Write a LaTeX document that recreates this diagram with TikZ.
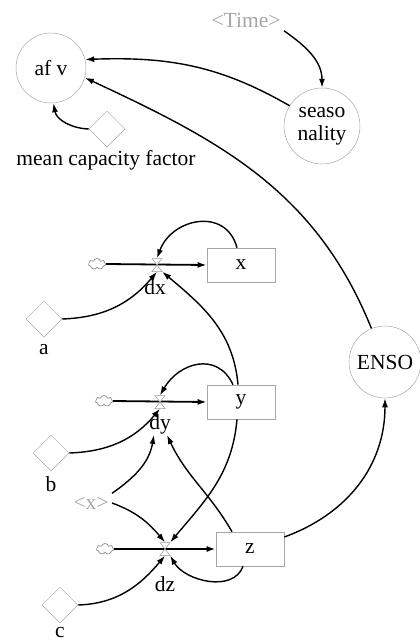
\documentclass[tikz,border=0pt]{standalone}
\usepackage{fontspec}
\setmainfont{Liberation Serif}
\usepackage{tikz}
\usetikzlibrary{arrows.meta, shapes.geometric, shapes.symbols, positioning, calc}
\tikzset{
  auxnode/.style={
    circle, minimum size=#1, inner sep=0pt,
    draw=gray!70, line width=0.5pt, align=center
  },
  constnode/.style={
    diamond, minimum width=36pt, minimum height=36pt, inner sep=0pt,
    draw=gray!70, line width=0.5pt
  },
  stocknode/.style={
    rectangle, minimum width=68pt, minimum height=34pt,
    draw=gray!70, line width=0.6pt
  },
  cloudnode/.style={
    cloud, cloud puffs=7, aspect=1.5, inner sep=0pt,
    minimum width=17pt, minimum height=11pt,
    draw=gray!90, line width=0.7pt
  },
  valvenode/.style={
    rectangle, inner sep=0pt, minimum width=10pt, minimum height=13pt
  },
  labnode/.style={inner sep=1pt},
  shadowvar/.style={text=gray!70},
  linkarrow/.style={-{Latex[length=9pt,width=6pt]}, line width=1.4pt},
  pipearrow/.style={-{Latex[length=9pt,width=6pt]}, line width=1.8pt},
}

\begin{document}
\begin{tikzpicture}[x=1pt, y=1pt, font=\fontsize{21.5}{23}\selectfont]
      \useasboundingbox (0,0) rectangle (420,-643);

      % upper part
      \node[auxnode=70pt](afv) at (51,-68)   {af v};
      \node[shadowvar](time) at (246,-20)     {<Time>};
      \node[auxnode=76pt](seas) at (322,-126) {seaso\\nality};
      \node[constnode](mcf) at (107,-129)     {};
      \node[labnode](mcflab) at (106,-160)    {mean capacity factor};
      \node[auxnode=72pt](enso) at (385,-362) {ENSO};

      % stocks and flows
      \node[stocknode](x) at (241,-265) {x};
      \node[stocknode](y) at (241,-402) {y};
      \node[stocknode](z) at (250,-549) {z};
      \node[valvenode](dx) at (157,-265) {};
      \node[valvenode](dy) at (160,-402) {};
      \node[valvenode](dz) at (165,-549) {};
      \node[cloudnode](cx) at (97,-264)  {};
      \node[cloudnode](cy) at (104,-401) {};
      \node[cloudnode](cz) at (105,-549) {};
      \node[labnode](dxlab) at (155,-287) {dx};
      \node[labnode](dylab) at (160,-424) {dy};
      \node[labnode](dzlab) at (165,-584) {dz};

      \node[constnode](a) at (44,-319) {};
      \node[labnode](alab) at (44,-350)  {a};
      \node[constnode](b) at (51,-453) {};
      \node[labnode](blab) at (51,-484)  {b};
      \node[constnode](c) at (60,-605) {};
      \node[labnode](clab) at (60,-633)  {c};
      \node[shadowvar](xs) at (91,-503) {<x>};

      \draw[pipearrow](cx.east)--(x.west);
      \draw[pipearrow](cy.east)--(y.west);
      \draw[pipearrow](cz.east)--(z.west);
      \foreach \v in {dx,dy,dz}
        \draw[gray!80, fill=white, line width=0.5pt]
          ([shift={(-5,6.5)}]\v.center) -- ([shift={(5,6.5)}]\v.center)
          -- ([shift={(-5,-6.5)}]\v.center) -- ([shift={(5,-6.5)}]\v.center) -- cycle;

      % links
      \draw[linkarrow](mcf.west) to[out=178,in=-80] (afv.-86);
      \draw[linkarrow](time.south east) to[out=-35,in=90] (seas.north);
      \draw[linkarrow](seas.148) to[out=150,in=2] (afv.14);
      \draw[linkarrow](enso.112) to[out=112,in=-25] (afv.-16);
      \draw[linkarrow](x.north) ++(-4,0) to[out=105,in=70,looseness=1.35] (dx.north);
      \draw[linkarrow](a.east) to[out=2,in=-130] (dx.south);
      \draw[linkarrow](y.north) ++(-3,0) to[out=95,in=-40] (dx.south east);
      \draw[linkarrow](y.north) ++(-8,0) to[out=115,in=60,looseness=1.3] (dy.north);
      \draw[linkarrow](b.east) to[out=2,in=-130] (dy.south);
      \draw[linkarrow](xs.north east) to[out=35,in=-100] ($(dylab.south)+(-6,0)$);
      \draw[linkarrow](xs.east) to[out=-20,in=130] (dz.north);
      \draw[linkarrow](y.south) ++(-4,0) to[out=-95,in=50] (dz.north east);
      \draw[linkarrow](z.north) ++(-18,0) to[out=120,in=-65] ($(dylab.south)+(7,0)$);
      \draw[linkarrow](z.south) ++(-7,0) to[out=-110,in=-60] (dz.south east);
      \draw[linkarrow](c.east) to[out=2,in=-130] (dz.south);
      \draw[linkarrow](z.east) ++(0,12) to[out=20,in=-90] (enso.south);
    \end{tikzpicture}
\end{document}
